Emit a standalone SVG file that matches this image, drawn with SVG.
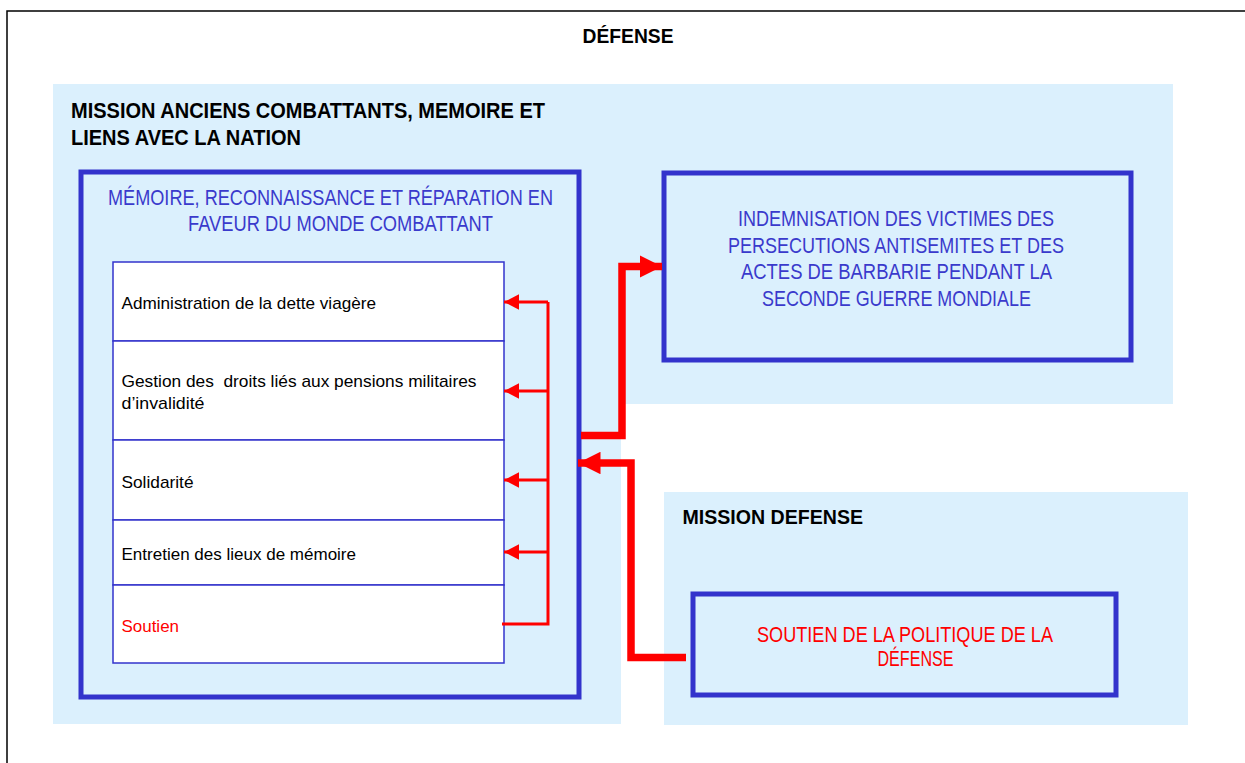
<svg xmlns="http://www.w3.org/2000/svg" width="1245" height="763" viewBox="0 0 1245 763">
<style>
  .t{font-family:"Liberation Sans",Arial,sans-serif;}
  .panel{fill:#dbf0fd;stroke:none;}
  .box{fill:none;stroke:#3333cc;stroke-width:5;}
  .hd{font-size:22px;font-weight:bold;fill:#000;}
  .bt{font-size:22px;fill:#3a3acc;}
  .rt{font-size:22px;fill:#ff0000;}
  .row{fill:#fff;stroke:#3333cc;stroke-width:1.5;}
  .rl{font-size:17px;fill:#000;}
  .red{fill:#ff0000;}
  .thin{fill:none;stroke:#ff0000;stroke-width:3;}
  .thick{fill:none;stroke:#ff0000;stroke-width:7.5;}
</style>
<defs>
  <marker id="ah" markerWidth="5" markerHeight="5.2" refX="5" refY="2.6" orient="auto" markerUnits="strokeWidth">
    <path d="M0,0 L5,2.6 L0,5.2 Z" fill="#ff0000"/>
  </marker>
  <marker id="ahb" markerWidth="3" markerHeight="3" refX="3" refY="1.5" orient="auto" markerUnits="strokeWidth">
    <path d="M0,0 L3,1.5 L0,3 Z" fill="#ff0000"/>
  </marker>
</defs>
<rect x="0" y="0" width="1245" height="763" fill="#fff"/>
<rect x="7" y="11" width="1250" height="770" fill="none" stroke="#000" stroke-width="1.5"/>
<text class="t" x="582.5" y="43" font-size="21" font-weight="bold" textLength="91" lengthAdjust="spacingAndGlyphs">DÉFENSE</text>

<g id="mission-anciens-combattants">
  <path class="panel" d="M53,84 H1173 V404 H621 V724 H53 Z"/>
  <text class="t hd" x="71" y="117.5" textLength="474" lengthAdjust="spacingAndGlyphs">MISSION ANCIENS COMBATTANTS, MEMOIRE ET</text>
  <text class="t hd" x="71" y="145" textLength="230" lengthAdjust="spacingAndGlyphs">LIENS AVEC LA NATION</text>
</g>

<g id="memoire-reconnaissance">
  <rect class="box" x="81" y="172" width="498" height="525"/>
  <text class="t bt" x="108" y="205" textLength="445" lengthAdjust="spacingAndGlyphs">MÉMOIRE, RECONNAISSANCE ET RÉPARATION EN</text>
  <text class="t bt" x="188" y="231" textLength="305" lengthAdjust="spacingAndGlyphs">FAVEUR DU MONDE COMBATTANT</text>
</g>

<g id="action-administration">
  <rect class="row" x="113" y="262" width="391" height="79"/>
  <text class="t rl" x="121.5" y="309" textLength="254.5" lengthAdjust="spacingAndGlyphs">Administration de la dette viagère</text>
</g>
<g id="action-gestion">
  <rect class="row" x="113" y="341" width="391" height="99"/>
  <text class="t rl" x="121.5" y="387" textLength="355" lengthAdjust="spacingAndGlyphs" xml:space="preserve">Gestion des  droits liés aux pensions militaires</text>
  <text class="t rl" x="121.5" y="409" textLength="83" lengthAdjust="spacingAndGlyphs">d’invalidité</text>
</g>
<g id="action-solidarite">
  <rect class="row" x="113" y="440" width="391" height="80"/>
  <text class="t rl" x="121.5" y="488" textLength="72" lengthAdjust="spacingAndGlyphs">Solidarité</text>
</g>
<g id="action-entretien">
  <rect class="row" x="113" y="520" width="391" height="65"/>
  <text class="t rl" x="121.5" y="560" textLength="234.5" lengthAdjust="spacingAndGlyphs">Entretien des lieux de mémoire</text>
</g>
<g id="action-soutien">
  <rect class="row" x="113" y="585" width="391" height="78"/>
  <text class="t rl red" x="121.5" y="632" textLength="57.5" lengthAdjust="spacingAndGlyphs">Soutien</text>
</g>

<g id="indemnisation">
  <rect class="box" x="664" y="173" width="467" height="187"/>
  <text class="t bt" x="738" y="226" textLength="316" lengthAdjust="spacingAndGlyphs">INDEMNISATION DES VICTIMES DES</text>
  <text class="t bt" x="728" y="253" textLength="336" lengthAdjust="spacingAndGlyphs">PERSECUTIONS ANTISEMITES ET DES</text>
  <text class="t bt" x="741" y="279" textLength="311" lengthAdjust="spacingAndGlyphs">ACTES DE BARBARIE PENDANT LA</text>
  <text class="t bt" x="762" y="306" textLength="269" lengthAdjust="spacingAndGlyphs">SECONDE GUERRE MONDIALE</text>
</g>

<g id="mission-defense">
  <rect class="panel" x="664" y="492" width="524" height="233"/>
  <text class="t hd" x="682.5" y="524" font-size="20" textLength="180.5" lengthAdjust="spacingAndGlyphs" style="font-size:20px">MISSION DEFENSE</text>
</g>

<g id="soutien-politique">
  <rect class="box" x="693" y="594" width="423" height="101"/>
  <text class="t rt" x="757" y="641.5" textLength="296" lengthAdjust="spacingAndGlyphs">SOUTIEN DE LA POLITIQUE DE LA</text>
  <text class="t rt" x="877.5" y="665.5" textLength="76" lengthAdjust="spacingAndGlyphs">DÉFENSE</text>
</g>

<g id="connectors">
  <path class="thin" d="M502,624 H548 V302"/>
  <path class="thin" d="M548,302 H504" marker-end="url(#ah)"/>
  <path class="thin" d="M548,391 H504" marker-end="url(#ah)"/>
  <path class="thin" d="M548,480 H504" marker-end="url(#ah)"/>
  <path class="thin" d="M548,552 H504" marker-end="url(#ah)"/>
  <path class="thick" d="M581,435.5 H622 V266.5 H662" marker-end="url(#ahb)"/>
  <path class="thick" d="M686,657.5 H631 V463 H578" marker-end="url(#ahb)"/>
</g>
</svg>
